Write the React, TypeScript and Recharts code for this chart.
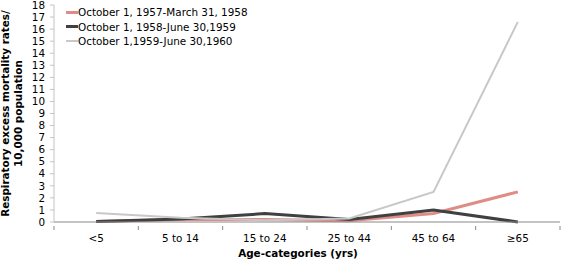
import { LineChart, Line, XAxis, YAxis } from "recharts";

const categories = ["<5", "5 to 14", "15 to 24", "25 to 44", "45 to 64", "≥65"];
const season1957 = [0.05, 0.2, 0.2, 0.1, 0.7, 2.5];
const season1958 = [0.05, 0.25, 0.7, 0.2, 1.0, 0.0];
const season1959 = [0.75, 0.35, 0.15, 0.3, 2.5, 16.6];
const yTicks = [0, 1, 2, 3, 4, 5, 6, 7, 8, 9, 10, 11, 12, 13, 14, 15, 16, 17, 18];

const series = [
  { key: "s1", name: "October 1, 1957-March 31, 1958", color: "#e08c86", width: 3 },
  { key: "s2", name: "October 1, 1958-June 30,1959", color: "#404040", width: 3 },
  { key: "s3", name: "October 1,1959-June 30,1960", color: "#c8c8c8", width: 2 },
];

const data = categories.map((c, i) => ({
  age: c,
  s1: season1957[i],
  s2: season1958[i],
  s3: season1959[i],
}));

const W = 567;
const H = 260;
const LEFT = 54;
const RIGHT = 7;
const BAND = (W - LEFT - RIGHT) / categories.length;
const FONT = "DejaVu Sans, Verdana, sans-serif";
const FS = 10.4;

// x tick: label at band centre, tick mark at band boundaries
// eslint-disable-next-line @typescript-eslint/no-explicit-any
function AgeTick({ x, y, payload, index }: any) {
  return (
    <g>
      <line x1={x - BAND / 2} x2={x - BAND / 2} y1={y - 4} y2={y} stroke="#888" />
      {index === categories.length - 1 && (
        <line x1={x + BAND / 2} x2={x + BAND / 2} y1={y - 4} y2={y} stroke="#888" />
      )}
      <text x={x} y={y + 12} textAnchor="middle" fontSize={FS} fontFamily={FONT} fill="#000">
        {payload.value}
      </text>
    </g>
  );
}

export default function App() {
  return (
    <div style={{ position: "absolute", left: 0, top: 0, width: W, height: H }}>
      <LineChart
        width={W}
        height={H}
        data={data}
        margin={{ top: 5, right: RIGHT, bottom: 0, left: 0 }}
      >
        <XAxis
          dataKey="age"
          scale="band"
          height={38}
          axisLine={{ stroke: "#888" }}
          tickLine={false}
          tick={<AgeTick />}
          interval={0}
          label={{
            value: "Age-categories (yrs)",
            position: "insideBottom",
            offset: 3,
            dx: -9,
            fontSize: FS,
            fontWeight: "bold",
            fontFamily: FONT,
            fill: "#000",
          }}
        />
        <YAxis
          width={LEFT}
          domain={[0, 18]}
          ticks={yTicks}
          interval={0}
          axisLine={{ stroke: "#c4c4c4" }}
          tickLine={{ stroke: "#c4c4c4" }}
          tickSize={4}
          tickMargin={5}
          tick={{ fontSize: FS, fontFamily: FONT, fill: "#000" }}
          label={({ viewBox }: any) => {
            const cy = viewBox.y + viewBox.height / 2;
            return (
              <text
                transform={`translate(12, ${cy}) rotate(-90)`}
                textAnchor="middle"
                fontSize={FS}
                fontWeight="bold"
                fontFamily={FONT}
                fill="#000"
              >
                <tspan x={0} dy={-3}>Respiratory excess mortality rates/</tspan>
                <tspan x={0} dy={12.5}>10,000 population</tspan>
              </text>
            );
          }}
        />
        {series.map((s) => (
          <Line
            key={s.key}
            dataKey={s.key}
            name={s.name}
            stroke={s.color}
            strokeWidth={s.width}
            dot={false}
            isAnimationActive={false}
          />
        ))}
      </LineChart>
      <div
        style={{
          position: "absolute",
          left: 66,
          top: 5,
          fontFamily: FONT,
          fontSize: FS,
          color: "#000",
        }}
      >
        {series.map((s) => (
          <div key={s.key} style={{ display: "flex", alignItems: "center", height: 14.5 }}>
            <span style={{ display: "inline-block", width: 12, height: s.width, background: s.color }} />
            <span>{s.name}</span>
          </div>
        ))}
      </div>
    </div>
  );
}
